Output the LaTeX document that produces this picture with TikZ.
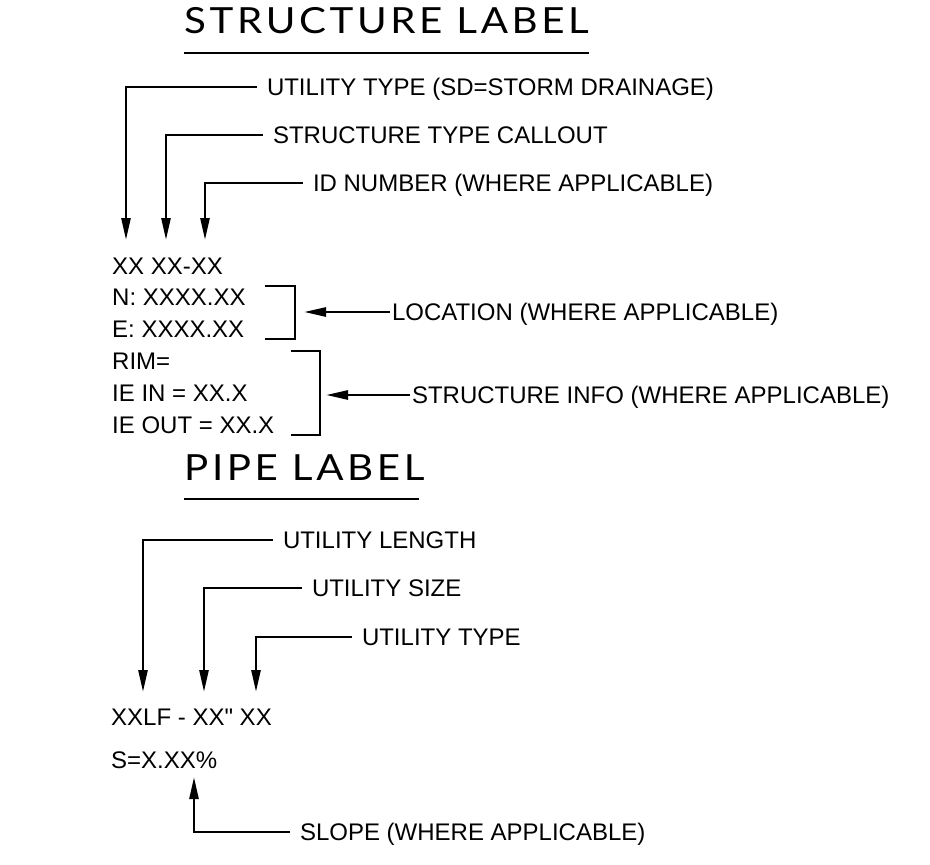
\documentclass[tikz,border=0pt]{standalone}
\usepackage{fontspec}
\setmainfont{Liberation Sans}
\newfontfamily\rawfont[Ligatures=ResetAll]{Liberation Sans}
\newfontfamily\titlefont[LetterSpace=10, FakeStretch=1.12]{Lato}
\usetikzlibrary{arrows.meta}

\begin{document}
\begin{tikzpicture}[x=1pt, y=-1pt,
  callout/.style={line width=2.6pt, -{Triangle[length=22pt, width=9pt]}},
  bracket/.style={line width=2.6pt},
  note/.style={anchor=west, font=\fontsize{24}{28}\selectfont, inner sep=0pt,
    outer xsep=10pt, text height=17pt, text depth=0pt},
  sidenote/.style={note, outer xsep=2pt},
  entry/.style={anchor=west, font=\fontsize{24}{28}\selectfont, inner sep=0pt,
    text height=17pt, text depth=0pt},
  heading/.style={anchor=base west, font=\titlefont\fontsize{36}{40}\selectfont, inner sep=0pt}]
\useasboundingbox (0,0) rectangle (930,865);

% Structure label heading
\node[heading] (stitle) at (184,33) {STRUCTURE LABEL};
\draw[line width=2.6pt] ([yshift=-20pt]stitle.base west) -- ([yshift=-20pt]stitle.base east);

% Callouts above the structure label
\coordinate (typetip) at (126,240);
\coordinate (calltip) at (166,240);
\coordinate (idtip) at (205,240);
\node[note] (typetxt) at (257,87) {UTILITY TYPE (SD=STORM DRAINAGE)};
\node[note] (calltxt) at (263,135) {STRUCTURE TYPE CALLOUT};
\node[note] (idtxt) at (303,183) {ID NUMBER (WHERE APPLICABLE)};
\draw[callout] (typetxt.west) -| (typetip);
\draw[callout] (calltxt.west) -| (calltip);
\draw[callout] (idtxt.west) -| (idtip);

% Structure label lines
\foreach \n/\y/\txt in {sid/266/XX XX-XX, snorth/297/N: XXXX.XX, seast/329/E: XXXX.XX,
    srim/361/RIM=, sin/393/IE IN = XX.X, sout/425/IE OUT = XX.X} {
  \node[entry] (\n) at (112,\y) {\txt};
}

% Brackets
\draw[bracket] (265,286) -| (295,339) -- (265,339);
\draw[bracket] (291,351) -| (320,435) -- (291,435);
\coordinate (loctip) at (304,312);
\coordinate (infotip) at (326,395);
\node[sidenote] (loctxt) at (390,312) {LOCATION (WHERE APPLICABLE)};
\node[sidenote] (infotxt) at (410,395) {STRUCTURE INFO (WHERE APPLICABLE)};
\draw[callout] (loctxt.west) -- (loctip);
\draw[callout] (infotxt.west) -- (infotip);

% Pipe label heading
\node[heading] (ptitle) at (184,480) {PIPE LABEL};
\draw[line width=2.6pt] ([yshift=-19pt]ptitle.base west) -- ([yshift=-19pt,xshift=-6pt]ptitle.base east);

% Callouts above the pipe label
\coordinate (lentip) at (143,692);
\coordinate (sizetip) at (204,692);
\coordinate (ptypetip) at (256,692);
\node[note] (lentxt) at (273,540) {UTILITY LENGTH};
\node[note] (sizetxt) at (302,588) {UTILITY SIZE};
\node[note] (ptypetxt) at (352,637) {UTILITY TYPE};
\draw[callout] (lentxt.west) -| (lentip);
\draw[callout] (sizetxt.west) -| (sizetip);
\draw[callout] (ptypetxt.west) -| (ptypetip);

% Pipe label lines
\node[entry] (pipe) at (111,717) {XXLF - XX{\rawfont"} XX};
\node[entry] (slope) at (111,760) {S=X.XX\%};

% Slope callout
\coordinate (slopetip) at (194,777);
\node[note] (slopetxt) at (290,832) {SLOPE (WHERE APPLICABLE)};
\draw[callout] (slopetxt.west) -| (slopetip);
\end{tikzpicture}
\end{document}
